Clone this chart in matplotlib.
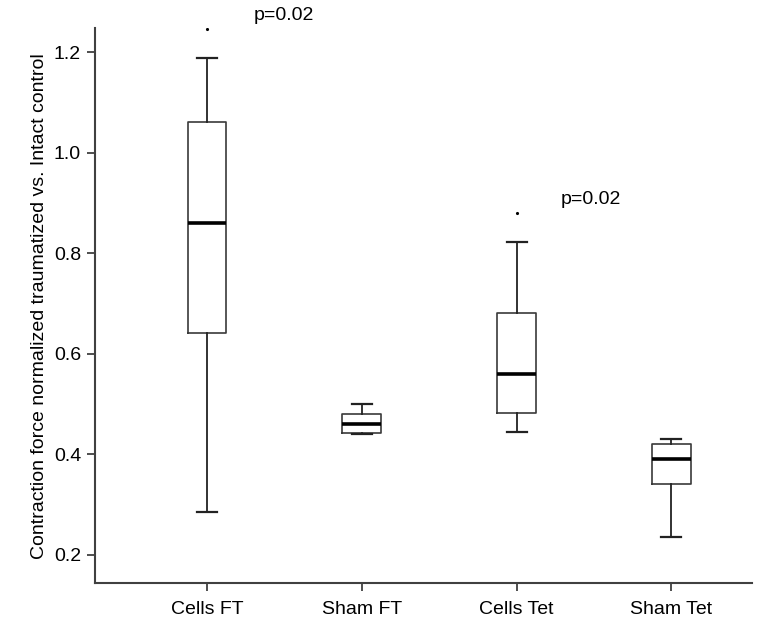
import matplotlib
matplotlib.use("Agg")
import matplotlib.pyplot as plt

plt.rcParams['font.family'] = ['Liberation Sans', 'DejaVu Sans']

groups = ["Cells FT", "Sham FT", "Cells Tet", "Sham Tet"]
whislo = [0.285, 0.440, 0.445, 0.236]
q1 = [0.642, 0.443, 0.483, 0.340]
med = [0.860, 0.461, 0.560, 0.390]
q3 = [1.060, 0.481, 0.681, 0.421]
whishi = [1.188, 0.500, 0.822, 0.430]
fliers = [[1.245], [], [0.880], []]

p_labels = ["p=0.02", "p=0.02"]
p_x = [1.5, 3.48]
p_y = [1.273, 0.907]

stats = []
for i, g in enumerate(groups):
    stats.append(dict(label=g, whislo=whislo[i], q1=q1[i], med=med[i],
                      q3=q3[i], whishi=whishi[i], fliers=fliers[i]))

fig = plt.figure(figsize=(7.72, 6.28), dpi=100)
ax = fig.add_axes([0.123, 0.0717, 0.851, 0.883])

ax.bxp(stats, positions=[1, 2, 3, 4], widths=0.25,
       boxprops=dict(color='#3a3a3a', linewidth=1.2),
       whiskerprops=dict(color='#222222', linewidth=1.3),
       capprops=dict(color='#222222', linewidth=1.6),
       medianprops=dict(color='black', linewidth=2.6),
       flierprops=dict(marker='.', markersize=2.5, markerfacecolor='black',
                       markeredgecolor='black'),
       capwidths=0.13)

for t, x, y in zip(p_labels, p_x, p_y):
    ax.text(x, y, t, ha='center', va='center', fontsize=14, clip_on=False)

ax.set_xlim(0.277, 4.52)
ax.set_ylim(0.144, 1.247)
ax.set_yticks([0.2, 0.4, 0.6, 0.8, 1.0, 1.2])
ax.set_yticklabels(["0.2", "0.4", "0.6", "0.8", "1.0", "1.2"])
ax.set_ylabel("Contraction force normalized traumatized vs. Intact control",
              fontsize=14, labelpad=4)

for s in ['top', 'right']:
    ax.spines[s].set_visible(False)
for s in ['left', 'bottom']:
    ax.spines[s].set_color('#404040')
    ax.spines[s].set_linewidth(1.5)
ax.tick_params(axis='both', direction='out', length=6, width=1.3,
               color='#404040', labelsize=14, pad=4)
ax.tick_params(axis='x', pad=7)

fig.savefig("out.png", dpi=100)
